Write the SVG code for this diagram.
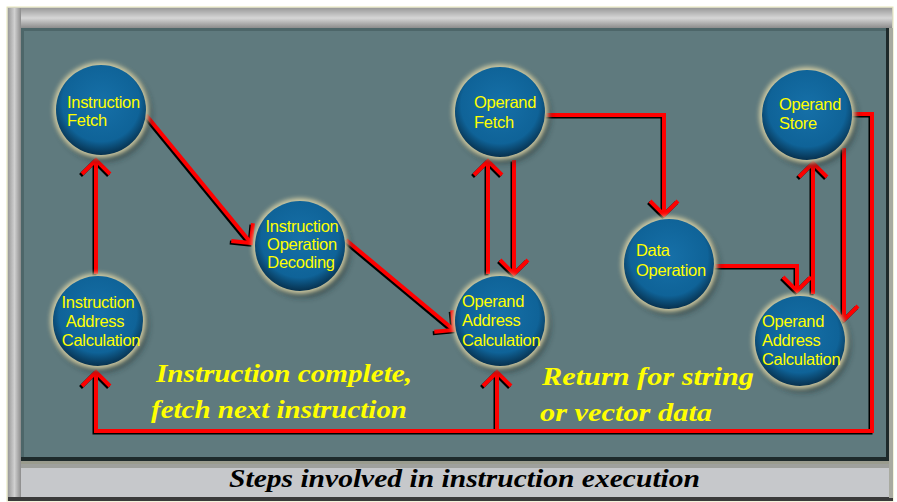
<svg xmlns="http://www.w3.org/2000/svg" width="897" height="502" viewBox="0 0 897 502">
<defs>
<linearGradient id="topBevel" x1="0" y1="0" x2="0" y2="1">
<stop offset="0" stop-color="#9a9a9a"/><stop offset="0.5" stop-color="#d6d6d6"/><stop offset="1" stop-color="#8c8c8c"/>
</linearGradient>
<linearGradient id="leftBevel" x1="0" y1="0" x2="1" y2="0">
<stop offset="0" stop-color="#9a9a9a"/><stop offset="0.5" stop-color="#d0d0d0"/><stop offset="1" stop-color="#8c8c8c"/>
</linearGradient>
<radialGradient id="ball" cx="0.5" cy="0.42" r="0.6">
<stop offset="0" stop-color="#1670a8"/><stop offset="0.72" stop-color="#0f6398"/><stop offset="1" stop-color="#062a44"/>
</radialGradient>
<filter id="blur" x="-20%" y="-20%" width="140%" height="140%"><feGaussianBlur stdDeviation="2"/></filter>
<filter id="shadow" x="-20%" y="-20%" width="140%" height="140%"><feGaussianBlur stdDeviation="3"/></filter>
<marker id="ar" markerUnits="userSpaceOnUse" markerWidth="40" markerHeight="40" viewBox="-20 -20 40 40" refX="0" refY="0" orient="auto">
<path d="M-14,-14 L0,0 L-14,14" fill="none" stroke="#ff0000" stroke-width="4" stroke-linejoin="miter"/>
</marker>
<marker id="ak" markerUnits="userSpaceOnUse" markerWidth="40" markerHeight="40" viewBox="-20 -20 40 40" refX="0" refY="0" orient="auto">
<path d="M-14,-14 L0,0 L-14,14" fill="none" stroke="#000" stroke-width="4" stroke-linejoin="miter"/>
</marker>
<style>
.node text{font-family:"Liberation Sans",Arial,sans-serif;font-size:16.5px;fill:#ffff00;letter-spacing:-0.3px}
.halo{fill:#d9d3a8;filter:url(#blur);opacity:0.9}
.drop{fill:#1d2a2c;filter:url(#shadow);opacity:0.6}
.ball{fill:url(#ball)}
.red path{fill:none;stroke:#ff0000;stroke-width:4;stroke-linejoin:miter}
.blk path{fill:none;stroke:#000;stroke-width:4;stroke-linejoin:miter}
.red .a{marker-end:url(#ar)}
.blk .a{marker-end:url(#ak)}
.script{font-family:"Liberation Serif","DejaVu Serif",serif;font-style:italic;font-weight:bold;font-size:25px;fill:#ffff00}
.cap{font-family:"Liberation Serif","DejaVu Serif",serif;font-style:italic;font-weight:bold;font-size:25px;fill:#000}
</style>
</defs>
<rect width="897" height="502" fill="#ffffff"/>
<!-- frame -->
<rect x="7" y="7" width="886" height="494" fill="#c6c8cb" stroke="#e8e6b8" stroke-width="1"/>
<rect x="8" y="8" width="884" height="20" fill="url(#topBevel)"/>
<rect x="8" y="8" width="13" height="490" fill="url(#leftBevel)"/>
<rect x="21" y="28" width="871" height="436" fill="#9a9c8e"/>
<rect x="21" y="28" width="868" height="433" fill="#1e2a2b"/>
<rect x="21" y="28" width="865" height="429" fill="#5f7a7e"/>
<rect x="21" y="28" width="865" height="3" fill="#4d6669"/>
<rect x="21" y="28" width="3" height="429" fill="#4d6669"/>
<rect x="21" y="464" width="871" height="4" fill="#9ea09c"/>
<rect x="8" y="497" width="885" height="4" fill="#3a3a3a"/>
<rect x="889" y="28" width="4" height="470" fill="#a8aaa0"/>

<!-- connectors -->
<g id="connectors">
<g class="blk" transform="translate(-1.5,1.5)">
<path class="a" d="M146,115 L251,243"/>
<path class="a" d="M346,240 L454,330"/>
<path class="a" d="M96,274 L96,160"/>
<path class="a" d="M488,274 L488,161"/>
<path class="a" d="M514,160 L514,274"/>
<path class="a" d="M546,115 L664,115 L664,215"/>
<path class="a" d="M715,266 L797,266 L797,291"/>
<path class="a" d="M813,294 L813,163"/>
<path class="a" d="M844,148 L844,320"/>
<path class="a" d="M852,114 L872,114 L872,431 L96,431 L96,372"/>
<path class="a" d="M497,431 L497,372"/>
</g>
<g class="red">
<path class="a" d="M146,115 L251,243"/>
<path class="a" d="M346,240 L454,330"/>
<path class="a" d="M96,274 L96,160"/>
<path class="a" d="M488,274 L488,161"/>
<path class="a" d="M514,160 L514,274"/>
<path class="a" d="M546,115 L664,115 L664,215"/>
<path class="a" d="M715,266 L797,266 L797,291"/>
<path class="a" d="M813,294 L813,163"/>
<path class="a" d="M844,148 L844,320"/>
<path class="a" d="M852,114 L872,114 L872,431 L96,431 L96,372"/>
<path class="a" d="M497,431 L497,372"/>
</g>
</g>

<!-- nodes -->
<g id="instruction-fetch" class="node">
<circle class="drop" cx="104" cy="114" r="47"/>
<circle class="halo" cx="101" cy="110" r="48"/>
<circle class="ball" cx="101" cy="110" r="45"/>
<text x="67" y="108">Instruction</text>
<text x="67" y="126">Fetch</text>
</g>
<g id="instruction-operation-decoding" class="node">
<circle class="drop" cx="303" cy="250" r="47"/>
<circle class="halo" cx="300" cy="246" r="48"/>
<circle class="ball" cx="300" cy="246" r="45"/>
<text x="302" y="232" text-anchor="middle">Instruction</text>
<text x="302" y="250" text-anchor="middle">Operation</text>
<text x="301" y="268" text-anchor="middle">Decoding</text>
</g>
<g id="instruction-address-calculation" class="node">
<circle class="drop" cx="101" cy="325" r="47"/>
<circle class="halo" cx="98" cy="321" r="48"/>
<circle class="ball" cx="98" cy="321" r="45"/>
<text x="98" y="308" text-anchor="middle">Instruction</text>
<text x="95" y="327" text-anchor="middle">Address</text>
<text x="101" y="346" text-anchor="middle">Calculation</text>
</g>
<g id="operand-fetch" class="node">
<circle class="drop" cx="503" cy="116" r="47"/>
<circle class="halo" cx="500" cy="112" r="48"/>
<circle class="ball" cx="500" cy="112" r="45"/>
<text x="474" y="108">Operand</text>
<text x="474" y="128">Fetch</text>
</g>
<g id="operand-address-calculation-1" class="node">
<circle class="drop" cx="503" cy="325" r="47"/>
<circle class="halo" cx="500" cy="321" r="48"/>
<circle class="ball" cx="500" cy="321" r="45"/>
<text x="462" y="307">Operand</text>
<text x="462" y="326">Address</text>
<text x="462" y="346">Calculation</text>
</g>
<g id="data-operation" class="node">
<circle class="drop" cx="672" cy="268" r="47"/>
<circle class="halo" cx="669" cy="264" r="48"/>
<circle class="ball" cx="669" cy="264" r="45"/>
<text x="636" y="256">Data</text>
<text x="636" y="276">Operation</text>
</g>
<g id="operand-store" class="node">
<circle class="drop" cx="810" cy="119" r="47"/>
<circle class="halo" cx="807" cy="115" r="48"/>
<circle class="ball" cx="807" cy="115" r="45"/>
<text x="779" y="110">Operand</text>
<text x="779" y="129">Store</text>
</g>
<g id="operand-address-calculation-2" class="node">
<circle class="drop" cx="803" cy="345" r="47"/>
<circle class="halo" cx="800" cy="341" r="48"/>
<circle class="ball" cx="800" cy="341" r="45"/>
<text x="762" y="327">Operand</text>
<text x="762" y="346">Address</text>
<text x="762" y="365">Calculation</text>
</g>

<!-- labels -->
<text class="script" x="156" y="382" textLength="256" lengthAdjust="spacingAndGlyphs">Instruction complete,</text>
<text class="script" x="151" y="418" textLength="256" lengthAdjust="spacingAndGlyphs">fetch next instruction</text>
<text class="script" x="542" y="385" textLength="212" lengthAdjust="spacingAndGlyphs">Return for string</text>
<text class="script" x="540" y="421" textLength="172" lengthAdjust="spacingAndGlyphs">or vector data</text>
<text class="cap" x="229" y="487" textLength="471" lengthAdjust="spacingAndGlyphs">Steps involved in instruction execution</text>
</svg>
